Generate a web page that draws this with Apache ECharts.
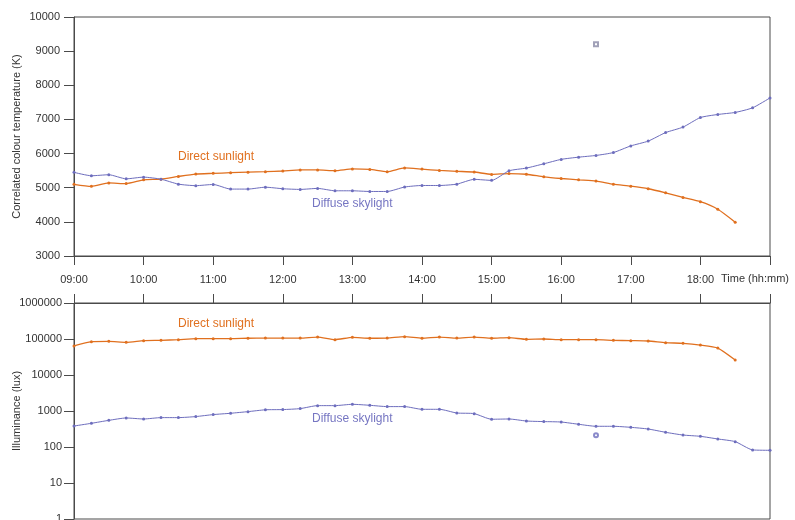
<!DOCTYPE html>
<html>
<head>
<meta charset="utf-8">
<script src="https://cdn.jsdelivr.net/npm/echarts@6/dist/echarts.min.js"></script>
<style>
  html, body { margin: 0; padding: 0; background: #ffffff; }
  #chart { width: 795px; height: 520px; }
</style>
</head>
<body>
<div id="chart"></div>
<script>
// Sampling times, every 15 minutes from 09:00 to 19:00
const times = [
  '09:00','09:15','09:30','09:45','10:00','10:15','10:30','10:45',
  '11:00','11:15','11:30','11:45','12:00','12:15','12:30','12:45',
  '13:00','13:15','13:30','13:45','14:00','14:15','14:30','14:45',
  '15:00','15:15','15:30','15:45','16:00','16:15','16:30','16:45',
  '17:00','17:15','17:30','17:45','18:00','18:15','18:30','18:45',
  '19:00'
];

// Correlated colour temperature (K)
const cctDirect = [
  5100, 5040, 5140, 5120, 5230, 5250, 5330, 5400,
  5420, 5440, 5455, 5470, 5490, 5520, 5520, 5500,
  5550, 5535, 5470, 5580, 5545, 5505, 5480, 5460,
  5390, 5415, 5395, 5320, 5270, 5230, 5195, 5105,
  5045, 4970, 4850, 4715, 4590, 4370, 3990
];
const cctDiffuse = [
  5450, 5350, 5380, 5260, 5310, 5250, 5105, 5060,
  5095, 4960, 4960, 5015, 4970, 4950, 4980, 4910,
  4910, 4890, 4890, 5020, 5065, 5065, 5105, 5245,
  5215, 5495, 5575, 5700, 5830, 5895, 5945, 6030,
  6225, 6365, 6615, 6775, 7055, 7145, 7205, 7340,
  7630
];

// Illuminance (lux)
const luxDirect = [
  64000, 84500, 86000, 81000, 90000, 92000, 96000, 102000,
  102000, 102000, 105000, 106000, 106000, 106000, 113000, 96000,
  111000, 105000, 106000, 116000, 105000, 113000, 106000, 113000,
  105000, 109000, 98000, 100000, 96000, 96000, 96000, 92000,
  90000, 88000, 79000, 76000, 68000, 56000, 26000
];
const luxDiffuse = [
  383, 455, 550, 640, 600, 655, 655, 700,
  795, 865, 960, 1080, 1095, 1165, 1410, 1410,
  1535, 1440, 1325, 1325, 1115, 1115, 880, 845,
  590, 600, 527, 508, 494, 428, 376, 376,
  352, 316, 256, 215, 198, 167, 141, 83,
  81
];

// Isolated single readings at 16:30
const cctOutlier = [['16:30', 9200]];
const luxOutlier = [['16:30', 211]];

const yTicksCct = [3000, 4000, 5000, 6000, 7000, 8000, 9000, 10000];
const yTicksLux = [1, 10, 100, 1000, 10000, 100000, 1000000];

function toHours(t) {
  const p = t.split(':');
  return +p[0] + (+p[1]) / 60;
}
function pairs(values) {
  return values.map((v, i) => [toHours(times[i]), v]);
}
function pad(h) { return (h < 10 ? '0' : '') + h + ':00'; }

const ORANGE = '#e0701f';
const BLUE = '#6d6dbd';
const AXIS = '#4a4a4a';
const FONT = 'Liberation Sans';

const chart = echarts.init(document.getElementById('chart'), null, { renderer: 'canvas' });

const yAxisCommon = {
  axisLine: { show: true, lineStyle: { color: AXIS, width: 1 } },
  axisTick: { show: true, length: 10, lineStyle: { color: AXIS } },
  splitLine: { show: false },
  axisLabel: { color: '#333', fontFamily: FONT, fontSize: 11, margin: 14, formatter: v => String(Math.round(v)) },
  nameLocation: 'middle',
  nameRotate: 90,
  nameMoveOverlap: false,
  nameTextStyle: { color: '#333', fontFamily: FONT, fontSize: 11 }
};

chart.setOption({
  animation: false,
  backgroundColor: '#ffffff',
  grid: [
    { left: 74, top: 17, width: 696, height: 239, show: true, borderColor: AXIS, borderWidth: 1, containLabel: false, outerBoundsMode: 'none' },
    { left: 74, top: 303, width: 696, height: 216, show: true, borderColor: AXIS, borderWidth: 1, containLabel: false, outerBoundsMode: 'none' }
  ],
  xAxis: [
    {
      type: 'value', gridIndex: 0, min: 9, max: 19, interval: 1, position: 'bottom',
      axisLine: { lineStyle: { color: AXIS } },
      axisTick: { length: 9, lineStyle: { color: AXIS } },
      splitLine: { show: false },
      axisLabel: {
        color: '#333', fontFamily: FONT, fontSize: 11, margin: 18,
        formatter: v => (v >= 19 ? '' : pad(v))
      }
    },
    {
      type: 'value', gridIndex: 1, min: 9, max: 19, interval: 1, position: 'top',
      axisLine: { lineStyle: { color: AXIS } },
      axisTick: { length: 9, lineStyle: { color: AXIS } },
      splitLine: { show: false },
      axisLabel: { show: false }
    }
  ],
  yAxis: [
    Object.assign({}, yAxisCommon, {
      type: 'value', gridIndex: 0,
      min: yTicksCct[0], max: yTicksCct[yTicksCct.length - 1], interval: 1000,
      name: 'Correlated colour temperature (K)', nameGap: 52
    }),
    Object.assign({}, yAxisCommon, {
      type: 'log', logBase: 10, gridIndex: 1,
      min: yTicksLux[0], max: yTicksLux[yTicksLux.length - 1],
      name: 'Illuminance (lux)', nameGap: 52,
      axisLabel: Object.assign({}, yAxisCommon.axisLabel, { margin: 12 })
    })
  ],
  series: [
    {
      name: 'Direct sunlight', type: 'line', xAxisIndex: 0, yAxisIndex: 0,
      data: pairs(cctDirect), smooth: 0.2,
      symbol: 'circle', symbolSize: 3, showSymbol: true,
      itemStyle: { color: ORANGE }, lineStyle: { color: ORANGE, width: 1.3 }
    },
    {
      name: 'Diffuse skylight', type: 'line', xAxisIndex: 0, yAxisIndex: 0,
      data: pairs(cctDiffuse), smooth: 0.2,
      symbol: 'circle', symbolSize: 3, showSymbol: true,
      itemStyle: { color: BLUE }, lineStyle: { color: BLUE, width: 1 }
    },
    {
      name: 'Direct sunlight', type: 'line', xAxisIndex: 1, yAxisIndex: 1,
      data: pairs(luxDirect), smooth: 0.2,
      symbol: 'circle', symbolSize: 3, showSymbol: true,
      itemStyle: { color: ORANGE }, lineStyle: { color: ORANGE, width: 1.3 }
    },
    {
      name: 'Diffuse skylight', type: 'line', xAxisIndex: 1, yAxisIndex: 1,
      data: pairs(luxDiffuse), smooth: 0.2,
      symbol: 'circle', symbolSize: 3, showSymbol: true,
      itemStyle: { color: BLUE }, lineStyle: { color: BLUE, width: 1 }
    },
    {
      type: 'scatter', xAxisIndex: 0, yAxisIndex: 0,
      data: cctOutlier.map(d => [toHours(d[0]), d[1]]),
      symbol: 'emptyRect', symbolSize: 4,
      itemStyle: { color: '#8a8aa6', borderWidth: 1 }
    },
    {
      type: 'scatter', xAxisIndex: 1, yAxisIndex: 1,
      data: luxOutlier.map(d => [toHours(d[0]), d[1]]),
      symbol: 'emptyCircle', symbolSize: 4,
      itemStyle: { color: BLUE, borderWidth: 1 }
    }
  ],
  graphic: [
    { type: 'text', left: 178, top: 151, style: { text: 'Direct sunlight', fill: ORANGE, font: '12px "Liberation Sans"' } },
    { type: 'text', left: 312, top: 198, style: { text: 'Diffuse skylight', fill: '#7676c2', font: '12px "Liberation Sans"' } },
    { type: 'text', left: 178, top: 318, style: { text: 'Direct sunlight', fill: ORANGE, font: '12px "Liberation Sans"' } },
    { type: 'text', left: 312, top: 413, style: { text: 'Diffuse skylight', fill: '#7676c2', font: '12px "Liberation Sans"' } },
    { type: 'text', left: 721, top: 273, style: { text: 'Time (hh:mm)', fill: '#333', font: '11px "Liberation Sans"' } }
  ]
});
</script>
</body>
</html>
